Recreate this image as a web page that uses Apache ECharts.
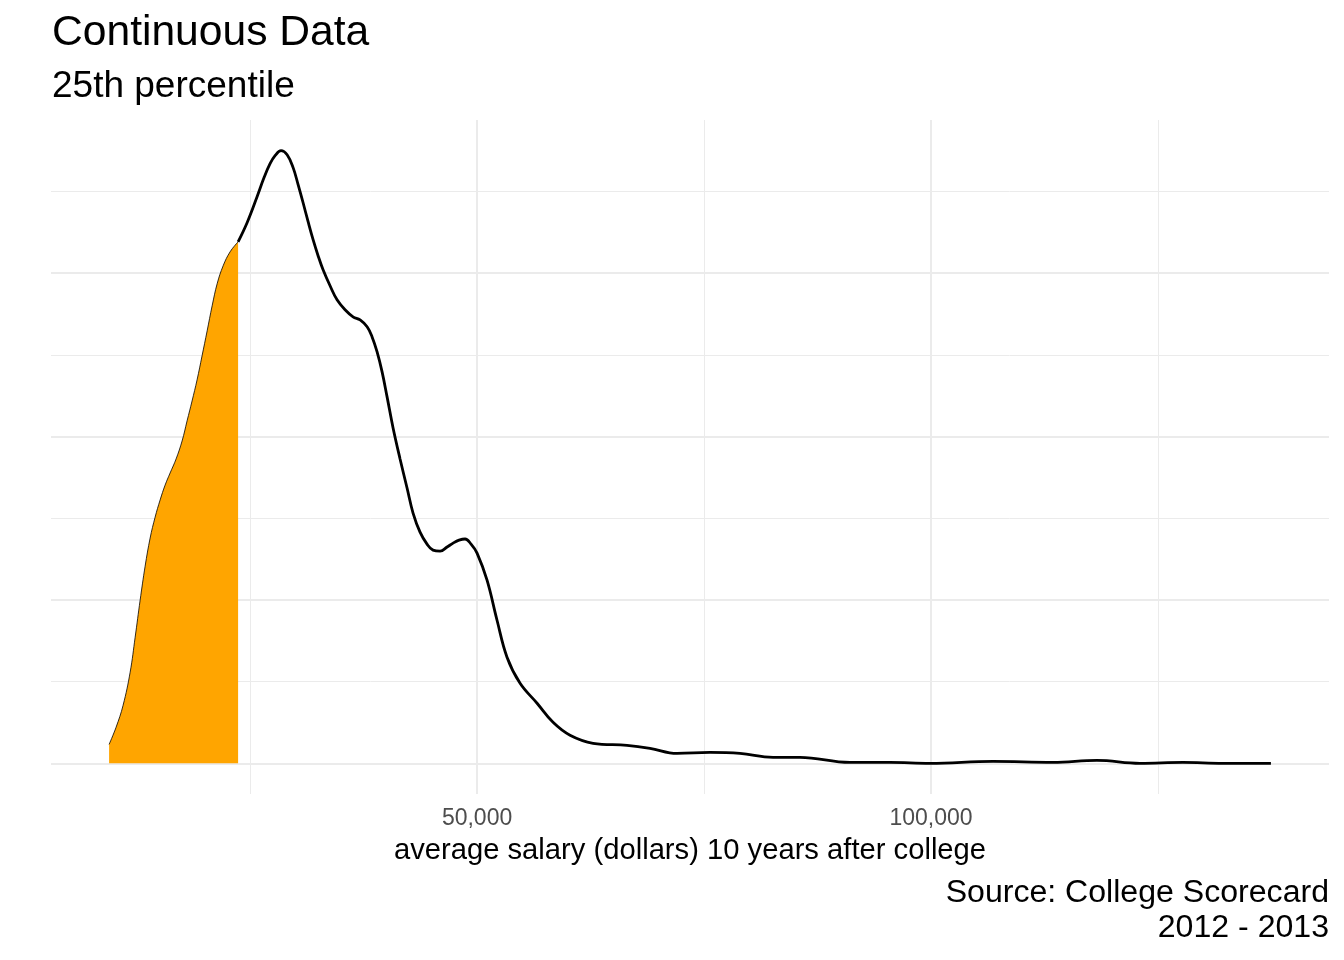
<!DOCTYPE html>
<html>
<head>
<meta charset="utf-8">
<title>Continuous Data</title>
<script src="https://cdn.jsdelivr.net/npm/echarts@6/dist/echarts.min.js"></script>
<style>
    html, body { margin: 0; padding: 0; background: #fff; }
    #main { width: 1344px; height: 960px; }
</style>
</head>
<body>
<div id="main"></div>
<script>
// salary (dollars) and kernel density estimate (in units of 1e-5 per dollar)
var salary = [9470, 10240, 11010, 11790, 12340, 12890, 13440, 13990, 14540, 15090,
    15640, 16190, 16850, 17510, 18060, 18610, 19160, 19710, 20270, 20820,
    21370, 22030, 22800, 23680, 24670, 25770, 26540, 27200, 27750, 28410,
    29080, 29740, 30290, 30840, 31390, 31940, 32490, 33040, 33810, 34580,
    35460, 36340, 37120, 37890, 38440, 38990, 39540, 40090, 40750, 41520,
    42290, 42950, 43720, 44490, 45150, 45930, 46700, 47360, 48020, 48680,
    49340, 50000, 51100, 52200, 53300, 54740, 56610, 58370, 60240, 62780,
    66520, 69050, 72030, 75660, 78960, 82600, 85570, 91080, 95480, 99890,
    106830, 113440, 118280, 123020, 127750, 132160, 137440];
var density = [0.116, 0.221, 0.355, 0.558, 0.772, 0.999, 1.207, 1.379, 1.507, 1.612,
    1.703, 1.777, 1.863, 1.973, 2.096, 2.218, 2.347, 2.494, 2.647, 2.800,
    2.935, 3.045, 3.131, 3.192, 3.309, 3.468, 3.585, 3.670, 3.719, 3.750,
    3.725, 3.646, 3.542, 3.431, 3.315, 3.205, 3.107, 3.021, 2.923, 2.837,
    2.776, 2.733, 2.714, 2.672, 2.610, 2.518, 2.396, 2.243, 2.053, 1.863,
    1.685, 1.532, 1.415, 1.342, 1.305, 1.299, 1.324, 1.348, 1.366, 1.373,
    1.342, 1.287, 1.121, 0.876, 0.650, 0.490, 0.368, 0.251, 0.172, 0.123,
    0.110, 0.092, 0.061, 0.067, 0.061, 0.037, 0.037, 0.006, 0.006, 0.000,
    0.012, 0.006, 0.018, 0.000, 0.006, 0.000, 0.000];
// 25th percentile of salary
var pctl25 = 23680;

// tick labels and grid lines
var xLabels = [50000, 100000];
var xMajor = [50000, 100000];
var xMinor = [25000, 75000, 125000];
var yMajor = [0, 1, 2, 3];
var yMinor = [0.5, 1.5, 2.5, 3.5];

var fontFamily = "'Liberation Sans', Arial, Helvetica, sans-serif";

// ggplot style 5% expansion of the data range
var xLo = Math.min.apply(null, salary), xHi = Math.max.apply(null, salary);
var yLo = 0, yHi = Math.max.apply(null, density);
var xPad = (xHi - xLo) * 0.05, yPad = (yHi - yLo) * 0.05;

var fillData = [], lineData = [];
for (var i = 0; i < salary.length; i++) {
    if (salary[i] <= pctl25) fillData.push([salary[i], density[i]]);
    if (salary[i] >= pctl25) lineData.push([salary[i], density[i]]);
}

var gridLines = [];
xMajor.forEach(function (v) { gridLines.push({xAxis: v, lineStyle: {color: '#EBEBEB', width: 2, type: 'solid'}}); });
xMinor.forEach(function (v) { gridLines.push({xAxis: v, lineStyle: {color: '#EBEBEB', width: 1, type: 'solid'}}); });
yMajor.forEach(function (v) { gridLines.push({yAxis: v, lineStyle: {color: '#EBEBEB', width: 2, type: 'solid'}}); });
yMinor.forEach(function (v) { gridLines.push({yAxis: v, lineStyle: {color: '#EBEBEB', width: 1, type: 'solid'}}); });

var chart = echarts.init(document.getElementById('main'));
chart.setOption({
    animation: false,
    backgroundColor: '#ffffff',
    textStyle: { fontFamily: fontFamily },
    title: [
        { text: 'Continuous Data', left: 52, top: 12, padding: 0,
          textStyle: { fontSize: 42.6, fontWeight: 'normal', color: '#000', fontFamily: fontFamily } },
        { text: '25th percentile', left: 52, top: 68, padding: 0,
          textStyle: { fontSize: 37, fontWeight: 'normal', color: '#000', fontFamily: fontFamily } },
        { text: 'Source: College Scorecard', right: 15, top: 877, padding: 0,
          textStyle: { fontSize: 32.1, fontWeight: 'normal', color: '#000', fontFamily: fontFamily } },
        { text: '2012 - 2013', right: 15, top: 912, padding: 0,
          textStyle: { fontSize: 32.1, fontWeight: 'normal', color: '#000', fontFamily: fontFamily } }
    ],
    grid: { left: 51, right: 15, top: 120, bottom: 166 },
    xAxis: {
        type: 'value',
        min: xLo - xPad,
        max: xHi + xPad,
        axisLine: { show: false },
        axisTick: { show: false },
        splitLine: { show: false },
        axisLabel: {
            customValues: xLabels,
            formatter: function (v) { return v.toLocaleString('en-US'); },
            color: '#4D4D4D',
            fontSize: 23,
            margin: 13,
            fontFamily: fontFamily
        },
        name: 'average salary (dollars) 10 years after college',
        nameLocation: 'middle',
        nameGap: 42,
        nameTextStyle: { fontSize: 29.2, color: '#000', fontFamily: fontFamily }
    },
    yAxis: {
        type: 'value',
        min: yLo - yPad,
        max: yHi + yPad,
        show: false
    },
    series: [
        {
            // panel grid
            type: 'line',
            data: [],
            silent: true,
            markLine: {
                silent: true,
                z: 1,
                symbol: ['none', 'none'],
                label: { show: false },
                animation: false,
                data: gridLines
            }
        },
        {
            // shaded area below the 25th percentile
            type: 'line',
            data: fillData,
            z: 3,
            smooth: 0.4,
            showSymbol: false,
            silent: true,
            lineStyle: { color: '#000', width: 0.8 },
            areaStyle: { color: '#FFA500', opacity: 1 }
        },
        {
            type: 'line',
            data: lineData,
            z: 4,
            smooth: 0.4,
            showSymbol: false,
            silent: true,
            lineStyle: { color: '#000', width: 2.8 }
        }
    ]
});
</script>
</body>
</html>
